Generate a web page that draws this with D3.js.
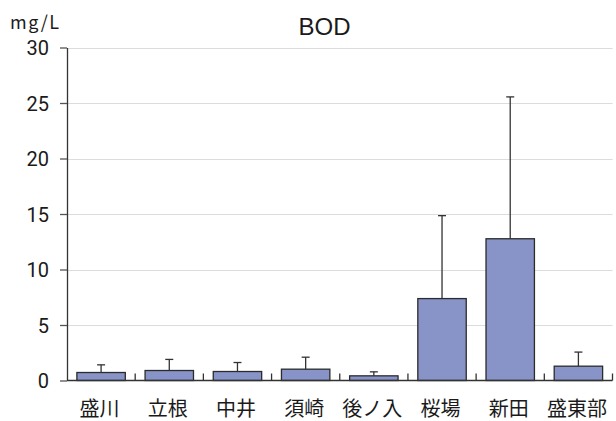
<!DOCTYPE html>
<html>
<head>
<meta charset="utf-8">
<script src="https://cdn.jsdelivr.net/npm/d3@7"></script>
<style>
  html, body { margin: 0; padding: 0; background: #fff; }
  svg text { font-family: "Noto Sans CJK JP", "Noto Sans", sans-serif; fill: #1a1a1a; }
</style>
</head>
<body>
<svg id="chart" width="616" height="421"></svg>
<script>
// BOD by site: mean and upper error (mean + deviation), mg/L
const sites = ["盛川", "立根", "中井", "須崎", "後ノ入", "桜場", "新田", "盛東部"];
const means = [0.72, 0.9, 0.81, 1.02, 0.42, 7.38, 12.77, 1.29];
const upper = [1.41, 1.9, 1.62, 2.1, 0.78, 14.85, 25.55, 2.56];
const yTicks = [0, 5, 10, 15, 20, 25, 30];

const svg = d3.select("#chart");
const margin = { left: 67, right: 616 - 612.5, top: 47.5, bottom: 421 - 380.5 };
const width = 616, height = 421;

const x = d3.scaleBand()
  .domain(sites)
  .range([margin.left, width - margin.right])
  .paddingInner(0.29)
  .paddingOuter(0.145);

const y = d3.scaleLinear()
  .domain([0, 30])
  .range([height - margin.bottom, margin.top]);

// horizontal gridlines
svg.append("g")
  .selectAll("line")
  .data(yTicks.filter(d => d > 0))
  .join("line")
  .attr("x1", margin.left)
  .attr("x2", width - margin.right)
  .attr("y1", d => Math.round(y(d)) + 0.5)
  .attr("y2", d => Math.round(y(d)) + 0.5)
  .attr("stroke", "#dcdcdc")
  .attr("stroke-width", 1.2);

// bars
svg.append("g")
  .selectAll("rect")
  .data(sites)
  .join("rect")
  .attr("x", d => x(d))
  .attr("width", x.bandwidth())
  .attr("y", (d, i) => y(means[i]))
  .attr("height", (d, i) => y(0) - y(means[i]))
  .attr("fill", "#8893c8")
  .attr("stroke", "#2b2b2b")
  .attr("stroke-width", 1.3);

// error bars (upper only)
const err = svg.append("g").attr("stroke", "#333").attr("stroke-width", 1.3);
sites.forEach((s, i) => {
  const cx = x(s) + x.bandwidth() / 2;
  err.append("line")
    .attr("x1", cx).attr("x2", cx)
    .attr("y1", y(means[i])).attr("y2", y(upper[i]));
  err.append("line")
    .attr("x1", cx - 4).attr("x2", cx + 4)
    .attr("y1", y(upper[i])).attr("y2", y(upper[i]));
});

// y axis
const yAxis = svg.append("g")
  .attr("transform", `translate(${margin.left},0)`)
  .call(d3.axisLeft(y).tickValues(yTicks).tickSize(7).tickPadding(11).tickSizeOuter(0));
yAxis.select(".domain").attr("stroke", "#333").attr("stroke-width", 1.3);
yAxis.selectAll(".tick line").attr("stroke", "#555").attr("stroke-width", 1.3);
yAxis.selectAll(".tick text")
  .attr("font-size", 20)
  .attr("dy", "0.36em")
  .attr("fill", "#1a1a1a")
  .style("font-family", "Roboto, 'Noto Sans', sans-serif");

// x axis: baseline with upward tick marks between categories
const baseY = y(0);
svg.append("line")
  .attr("x1", margin.left).attr("x2", width - margin.right)
  .attr("y1", baseY).attr("y2", baseY)
  .attr("stroke", "#333").attr("stroke-width", 1.3);

const step = x.step();
const bounds = d3.range(1, sites.length + 1).map(k => margin.left + k * step);
svg.append("g")
  .selectAll("line")
  .data(bounds)
  .join("line")
  .attr("x1", d => d).attr("x2", d => d)
  .attr("y1", baseY).attr("y2", baseY - 7)
  .attr("stroke", "#333").attr("stroke-width", 1.3);

// category labels
svg.append("g")
  .selectAll("text")
  .data(sites)
  .join("text")
  .attr("x", d => x(d) + x.bandwidth() / 2 - 1.5)
  .attr("y", 415.5)
  .attr("text-anchor", "middle")
  .attr("font-size", 20)
  .text(d => d);

// title and unit
svg.append("text")
  .attr("x", 324.5)
  .attr("y", 35)
  .attr("text-anchor", "middle")
  .attr("font-size", 24)
  .style("font-family", "Arial, 'Liberation Sans', sans-serif")
  .text("BOD");

svg.append("text")
  .attr("x", 10)
  .attr("y", 29)
  .attr("font-size", 18)
  .attr("letter-spacing", 1.5)
  .text("mg/L");
</script>
</body>
</html>
